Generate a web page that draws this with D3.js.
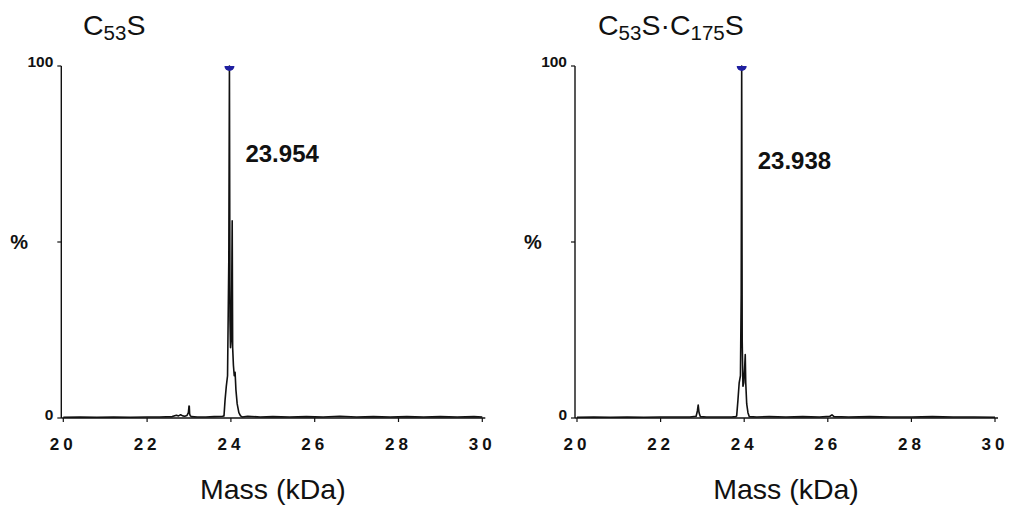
<!DOCTYPE html>
<html>
<head>
<meta charset="utf-8">
<script src="https://cdn.jsdelivr.net/npm/d3@7"></script>
<style>
  html, body { margin: 0; padding: 0; background: #fff; }
  svg { display: block; font-family: "Liberation Sans", Arial, sans-serif; }
</style>
</head>
<body>
<div id="chart"></div>
<script>
(function () {
  'use strict';

  // ---- data ----
  var xTicks = [20, 22, 24, 26, 28, 30];
  var yTicks = [0, 50, 100];
  var yTickLabels = ['0', '', '100'];

  // title pieces: [text, isSubscript]
  var titleA = [['C', 0], ['53', 1], ['S', 0]];
  var titleB = [['C', 0], ['53', 1], ['S\u00b7C', 0], ['175', 1], ['S', 0]];

  var massA = [20.0, 20.4, 20.8, 21.2, 21.6, 22.0, 22.3, 22.6, 22.7, 22.75,
               22.8, 22.85, 22.9, 22.95, 22.985, 23.0, 23.007, 23.015, 23.03, 23.06,
               23.2, 23.4, 23.6, 23.8, 23.835, 23.86, 23.89, 23.92, 23.95, 23.965,
               23.978, 23.99, 24.005, 24.02, 24.031, 24.042, 24.06, 24.08, 24.10, 24.12,
               24.15, 24.19, 24.23, 24.27, 24.4, 24.7, 25.0, 25.4, 25.8, 26.2,
               26.6, 27.0, 27.4, 27.8, 28.2, 28.6, 29.0, 29.4, 29.8, 30.0];
  var intA  = [0.2, 0.3, 0.2, 0.3, 0.2, 0.3, 0.3, 0.4, 0.8, 0.6,
               0.9, 0.6, 0.5, 0.7, 1.5, 3.4, 3.3, 1.2, 0.6, 0.4,
               0.3, 0.3, 0.4, 0.5, 0.6, 5, 9, 12, 45, 100,
               28, 20, 22, 38, 56, 20, 15, 12, 13, 8,
               4, 1.5, 0.6, 0.3, 0.5, 0.3, 0.4, 0.3, 0.4, 0.3,
               0.5, 0.3, 0.4, 0.3, 0.4, 0.3, 0.4, 0.3, 0.4, 0.3];

  var massB = [20.0, 20.4, 20.8, 21.2, 21.6, 22.0, 22.4, 22.7, 22.85, 22.88,
               22.9, 22.92, 22.95, 23.1, 23.4, 23.7, 23.8, 23.82, 23.85, 23.88,
               23.91, 23.928, 23.94, 23.952, 23.97, 23.99, 24.01, 24.025, 24.037, 24.06,
               24.09, 24.12, 24.3, 24.6, 25.0, 25.4, 25.8, 26.05, 26.1, 26.15,
               26.5, 27.0, 27.5, 28.0, 28.5, 29.0, 29.5, 30.0];
  var intB  = [0.2, 0.3, 0.2, 0.3, 0.2, 0.3, 0.3, 0.3, 0.5, 2.0,
               3.7, 1.5, 0.4, 0.3, 0.3, 0.3, 0.4, 0.6, 5, 10,
               12, 35, 100, 22, 9, 10, 14, 18, 10, 4,
               1.5, 0.4, 0.3, 0.4, 0.3, 0.4, 0.3, 0.5, 0.9, 0.4,
               0.3, 0.4, 0.3, 0.3, 0.4, 0.3, 0.3, 0.2];

  var peakMass   = [23.965, 23.94];
  var peakLabels = ['23.954', '23.938'];
  var peakLabelY = [72.7, 70.7];   // label baseline, in % units

  // ---- layout ----
  var W = 1016, H = 510;
  var yTop = 66, yBot = 418;

  var panels = [
    { title: titleA, mass: massA, inten: intA, x0: 63.3, x1: 482.3, titleX: 83 },
    { title: titleB, mass: massB, inten: intB, x0: 577,  x1: 995,   titleX: 598 }
  ];

  var svg = d3.select('#chart').append('svg')
    .attr('width', W).attr('height', H)
    .attr('viewBox', '0 0 ' + W + ' ' + H);

  var y = d3.scaleLinear().domain([0, 100]).range([yBot, yTop]);

  panels.forEach(function (p, i) {
    var x = d3.scaleLinear().domain([20, 30]).range([p.x0, p.x1]);
    var g = svg.append('g');
    var axX = p.x0 - 2;

    // Title with subscripts
    var t = g.append('text')
      .attr('x', p.titleX).attr('y', 35)
      .attr('font-size', 28.5).attr('fill', '#111');
    var sub = false;
    p.title.forEach(function (seg) {
      var ts = t.append('tspan').text(seg[0]);
      if (seg[1] && !sub) { ts.attr('font-size', 20.5).attr('dy', 5); sub = true; }
      else if (!seg[1] && sub) { ts.attr('dy', -5); sub = false; }
    });

    // Y axis
    g.append('line')
      .attr('x1', axX).attr('x2', axX)
      .attr('y1', yTop).attr('y2', yBot)
      .attr('stroke', '#111').attr('stroke-width', 1.4);
    yTicks.forEach(function (v, k) {
      g.append('line')
        .attr('x1', axX - 4).attr('x2', axX)
        .attr('y1', y(v)).attr('y2', y(v))
        .attr('stroke', '#111').attr('stroke-width', 1.2);
      if (yTickLabels[k]) {
        g.append('text')
          .attr('x', axX - 8).attr('y', y(v) + (v === 100 ? 1 : 2))
          .attr('text-anchor', 'end').attr('font-size', 15.5)
          .attr('font-weight', 700).attr('fill', '#111')
          .text(yTickLabels[k]);
      }
    });
    g.append('text')
      .attr('x', axX - 51).attr('y', y(50) + 7)
      .attr('font-size', 20).attr('font-weight', 700).attr('fill', '#111')
      .text('%');

    // X axis
    g.append('line')
      .attr('x1', axX).attr('x2', p.x1 + 3)
      .attr('y1', yBot).attr('y2', yBot)
      .attr('stroke', '#111').attr('stroke-width', 1.4);
    xTicks.forEach(function (v) {
      g.append('line')
        .attr('x1', x(v)).attr('x2', x(v))
        .attr('y1', yBot).attr('y2', yBot + 4)
        .attr('stroke', '#111').attr('stroke-width', 1.2);
      g.append('text')
        .attr('x', x(v)).attr('y', yBot + 32)
        .attr('text-anchor', 'middle').attr('font-size', 17)
        .attr('font-weight', 700).attr('letter-spacing', 4)
        .attr('fill', '#111')
        .text(v);
    });
    g.append('text')
      .attr('x', (p.x0 + p.x1) / 2).attr('y', 499)
      .attr('text-anchor', 'middle').attr('font-size', 28.5)
      .attr('fill', '#111')
      .text('Mass (kDa)');

    // Spectrum
    var pts = p.mass.map(function (m, k) { return [m, p.inten[k]]; });
    g.append('path')
      .datum(pts)
      .attr('fill', 'none')
      .attr('stroke', '#111')
      .attr('stroke-width', 1.6)
      .attr('stroke-linejoin', 'round')
      .attr('d', d3.line()
        .x(function (d) { return x(d[0]); })
        .y(function (d) { return y(d[1]); }));

    // Blue peak marker (half disc below the top)
    g.append('path')
      .attr('transform', 'translate(' + x(peakMass[i]) + ',' + y(100) + ')')
      .attr('d', d3.arc()({ innerRadius: 0, outerRadius: 5,
                            startAngle: Math.PI / 2, endAngle: Math.PI * 1.5 }))
      .attr('fill', '#1f1fa0');

    // Peak label
    g.append('text')
      .attr('x', x(peakMass[i]) + 16).attr('y', y(peakLabelY[i]))
      .attr('font-size', 24).attr('font-weight', 700).attr('fill', '#111')
      .text(peakLabels[i]);
  });

}());
</script>
</body>
</html>
